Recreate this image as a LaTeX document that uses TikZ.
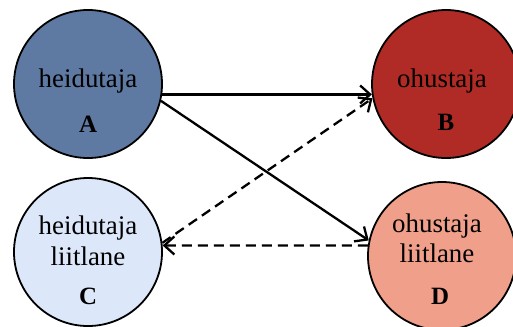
\documentclass[tikz,border=0pt]{standalone}
\usepackage{fontspec}
\setmainfont{Liberation Serif}
\usetikzlibrary{arrows.meta}
\definecolor{cA}{HTML}{5E7AA2}
\definecolor{cB}{HTML}{B02B25}
\definecolor{cC}{HTML}{DCE8FA}
\definecolor{cD}{HTML}{F0A08A}
\tikzset{
  party/.style={circle, draw=black, line width=1.8bp, minimum size=148bp, inner sep=0pt},
  lbl/.style={anchor=base, inner sep=0pt, font=\fontsize{27}{32}\selectfont},
  letter/.style={anchor=base, inner sep=0pt, font=\fontsize{25}{30}\selectfont\bfseries},
  conn/.style={line width=2.3bp, -{Straight Barb[length=10bp,width=18bp,line width=2.3bp]}},
  dconn/.style={conn, dash pattern=on 10bp off 6bp}
}
\begin{document}
\begin{tikzpicture}[x=1bp,y=-1bp]
\useasboundingbox (0,0) rectangle (513,326);
\node[party, fill=cA] (A) at (88,84) {};
\node[party, fill=cB] (B) at (446,84) {};
\node[party, fill=cC] (C) at (88,252) {};
\node[party, fill=cD] (D) at (442,256) {};
\node[lbl] (tA) at (88,87) {heidutaja};
\node[letter] (lA) at (88,132) {A};
\node[lbl] (tB) at (442,87) {ohustaja};
\node[letter] (lB) at (446,130) {B};
\node[lbl] (tC1) at (88,234) {heidutaja};
\node[lbl] (tC2) at (88,265) {liitlane};
\node[letter] (lC) at (88,304) {C};
\node[lbl] (tD1) at (437,232) {ohustaja};
\node[lbl] (tD2) at (437,262) {liitlane};
\node[letter] (lD) at (440,304) {D};
\draw[conn] (A.-8.5) -- (B.188.5);
\draw[conn] (A.-13.5) -- (D.168);
\draw[dconn] (C.7) -- (B.191.5);
\draw[dconn] (D.172) -- (C.5.4);
\end{tikzpicture}
\end{document}
